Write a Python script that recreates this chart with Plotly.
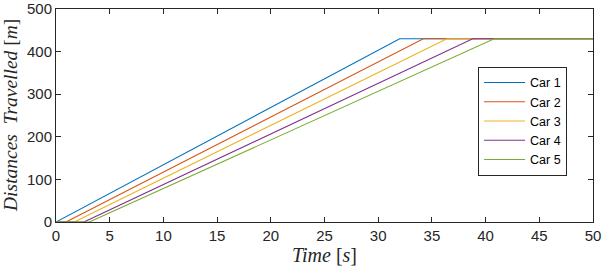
import plotly.graph_objects as go

cars = ["Car 1", "Car 2", "Car 3", "Car 4", "Car 5"]
start_times = [0.0, 0.93, 1.7, 2.6, 3.1]
arrival_times = [32.0, 34.2, 36.4, 38.8, 40.8]
total_distance = 430
t_end = 50
colors = ["#0072BD", "#D95319", "#EDB120", "#7E2F8E", "#77AC30"]

fig = go.Figure()
for name, ts, ta, c in zip(cars, start_times, arrival_times, colors):
    fig.add_trace(go.Scatter(
        x=[0, ts, ta, t_end],
        y=[0, 0, total_distance, total_distance],
        mode="lines", name=name,
        line=dict(color=c, width=1.1),
    ))

axis_common = dict(
    showline=True, linecolor="#262626", linewidth=1, mirror="ticks",
    ticks="inside", ticklen=5, tickcolor="#262626", tickwidth=1,
    showgrid=False, zeroline=False, automargin=False,
    tickfont=dict(family="Liberation Sans, Arial", size=15, color="#262626"),
)

serif = "Liberation Serif, Times New Roman"

fig.update_layout(
    width=602, height=268,
    margin=dict(l=56, r=9, t=9, b=46),
    paper_bgcolor="white", plot_bgcolor="white",
    xaxis=dict(range=[0, 50], dtick=5,
               title=dict(text="<i>Time</i> [<i>s</i>]",
                          font=dict(family=serif, size=20, color="#262626"),
                          standoff=3),
               **axis_common),
    yaxis=dict(range=[0, 500], dtick=100, **axis_common),
    legend=dict(x=0.786, y=0.728, xanchor="left", yanchor="top",
                bordercolor="#262626", borderwidth=1, bgcolor="white",
                font=dict(family="Liberation Sans, Arial", size=12.5, color="black"),
                tracegroupgap=0, itemwidth=41),
    showlegend=True,
)

fig.add_annotation(
    text="<i>Distances  Travelled</i> [<i>m</i>]",
    xref="paper", yref="paper", x=-0.0848, y=0.5,
    xanchor="center", yanchor="middle", textangle=-90, showarrow=False,
    font=dict(family=serif, size=19.5, color="#262626"),
)

fig.write_html("out.html", post_script="document.body.style.margin='0px';",
               config={"displayModeBar": False})
